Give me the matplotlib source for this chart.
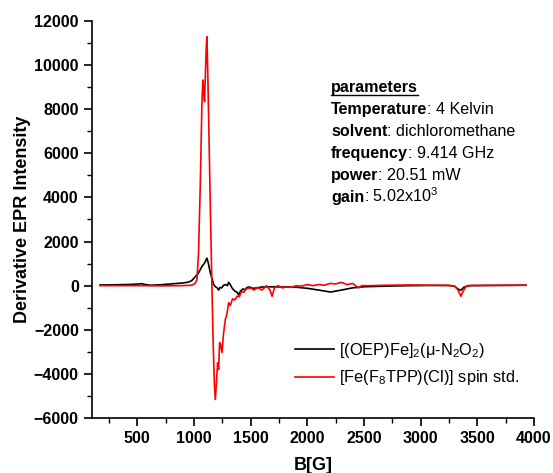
import matplotlib
matplotlib.use("Agg")
import matplotlib.pyplot as plt
from matplotlib.lines import Line2D
from matplotlib.ticker import MultipleLocator

plt.rcParams['font.family'] = ['Liberation Sans', 'DejaVu Sans']
plt.rcParams['mathtext.fontset'] = 'custom'
plt.rcParams['mathtext.rm'] = 'Liberation Sans'
plt.rcParams['mathtext.it'] = 'Liberation Sans:italic'
plt.rcParams['mathtext.bf'] = 'Liberation Sans:bold'

# ---- data ----
b_black = [170, 300, 400, 500, 540, 570, 620, 700, 800, 900, 950, 980, 1010, 1040,
           1070, 1090, 1105, 1114, 1125, 1143, 1160, 1173, 1190, 1205, 1217, 1230,
           1245, 1261, 1280, 1295, 1306, 1320, 1335, 1360, 1380, 1394, 1410, 1430,
           1450, 1468, 1490, 1520, 1557, 1600, 1700, 1800, 1900, 2000, 2100, 2205,
           2300, 2400, 2500, 2700, 2900, 3100, 3250, 3300, 3330, 3355, 3380, 3420,
           3600, 3930]
i_black = [30, 40, 50, 70, 90, 50, 20, 40, 80, 120, 160, 230, 400, 580,
           870, 1000, 1150, 1250, 1050, 600, 300, 50, -50, -100, -200, -80,
           -100, 20, 50, 0, 150, 50, -100, -250, -300, -420, -250, -150,
           -180, -80, -60, -120, -100, -60, -50, -60, -70, -120, -200, -290,
           -200, -100, -50, -20, 0, 10, 10, -30, -150, -210, -80, 0,
           10, 20]

b_red = [170, 500, 700, 900, 980, 1010, 1026, 1040, 1055, 1070, 1078, 1086, 1093,
         1100, 1108, 1114, 1122, 1135, 1148, 1158, 1170, 1180, 1188, 1197, 1208,
         1217, 1226, 1236, 1247, 1260, 1276, 1290, 1306, 1320, 1340, 1360, 1380,
         1400, 1420, 1440, 1460, 1497, 1530, 1560, 1600, 1640, 1670, 1689, 1710,
         1740, 1780, 1820, 1860, 1900, 1950, 2000, 2050, 2100, 2150, 2200, 2250,
         2300, 2350, 2400, 2450, 2480, 2550, 2700, 2900, 3100, 3250, 3300, 3330,
         3355, 3375, 3400, 3450, 3600, 3930]
i_red = [0, 0, -10, 0, 20, 100, 270, 1500, 4500, 8300, 9325, 8800, 8340,
         9500, 10800, 11286, 9500, 6000, 2500, 0, -2800, -4500, -5160, -4500, -3500,
         -3800, -2580, -2700, -3030, -2200, -1540, -1300, -770, -900, -600, -650, -480,
         -500, -250, -300, -150, -100, -200, -80, -200, 0, -200, -480, -100,
         0, -100, -50, -80, 0, -20, 50, 0, 50, 20, 100, 80,
         150, 50, 100, -100, 0, 0, 20, 30, 20, 10, -20, -200,
         -480, -250, -40, 10, 10, 20]

label_black = "[(OEP)Fe]$_2$(\u03bc-N$_2$O$_2$)"
label_red = "[Fe(F$_8$TPP)(Cl)] spin std."

param_lines = [
    ("Temperature", ": 4 Kelvin"),
    ("solvent", ": dichloromethane"),
    ("frequency", ": 9.414 GHz"),
    ("power", ": 20.51 mW"),
    ("gain", ": 5.02x10$^3$"),
]

fig = plt.figure(figsize=(5.53, 4.73), dpi=100)
ax = fig.add_axes([0.1664, 0.1163, 0.7992, 0.8393])

ax.plot(b_black, i_black, color='black', lw=1.2, label=label_black)
ax.plot(b_red, i_red, color='red', lw=1.2, label=label_red)

ax.set_xlim(100, 4000)
ax.set_ylim(-6000, 12000)
ax.xaxis.set_major_locator(MultipleLocator(500))
ax.xaxis.set_minor_locator(MultipleLocator(250))
ax.yaxis.set_major_locator(MultipleLocator(2000))
ax.yaxis.set_minor_locator(MultipleLocator(1000))
ax.set_xticks(range(500, 4001, 500))

for s in ['top', 'right']:
    ax.spines[s].set_visible(False)
for s in ['left', 'bottom']:
    ax.spines[s].set_linewidth(1.2)
ax.tick_params(which='major', direction='out', length=6, width=1.2, labelsize=11.5)
ax.tick_params(which='minor', direction='out', length=3.5, width=1.0)
for lab in ax.get_xticklabels() + ax.get_yticklabels():
    lab.set_fontweight('bold')

ax.set_xlabel('B[G]', fontsize=13, fontweight='bold', labelpad=8)
ax.set_ylabel('Derivative EPR Intensity', fontsize=13, fontweight='bold', labelpad=2)

leg = ax.legend(loc='lower right', bbox_to_anchor=(1.0, 0.04), frameon=False,
                fontsize=11.8, handlelength=2.4, handletextpad=0.3, labelspacing=0.5)

# parameters box
x0 = 331 / 553
y0 = 1 - 92 / 473
dy = 22 / 473
fs = 11.6
head = fig.text(x0, y0, 'parameters', fontsize=fs, fontweight='bold', va='baseline')
fig.canvas.draw()
bb = head.get_window_extent().transformed(fig.transFigure.inverted())
fig.add_artist(Line2D([bb.x0, bb.x1], [y0 - 0.006, y0 - 0.006],
                      transform=fig.transFigure, color='black', lw=1.0))
for k, (bold, rest) in enumerate(param_lines):
    yy = y0 - dy * (k + 1)
    t = fig.text(x0, yy, bold, fontsize=fs, fontweight='bold', va='baseline')
    fig.canvas.draw()
    e = t.get_window_extent().transformed(fig.transFigure.inverted())
    fig.text(e.x1, yy, rest, fontsize=fs, va='baseline')

fig.savefig('out.png', dpi=100)
